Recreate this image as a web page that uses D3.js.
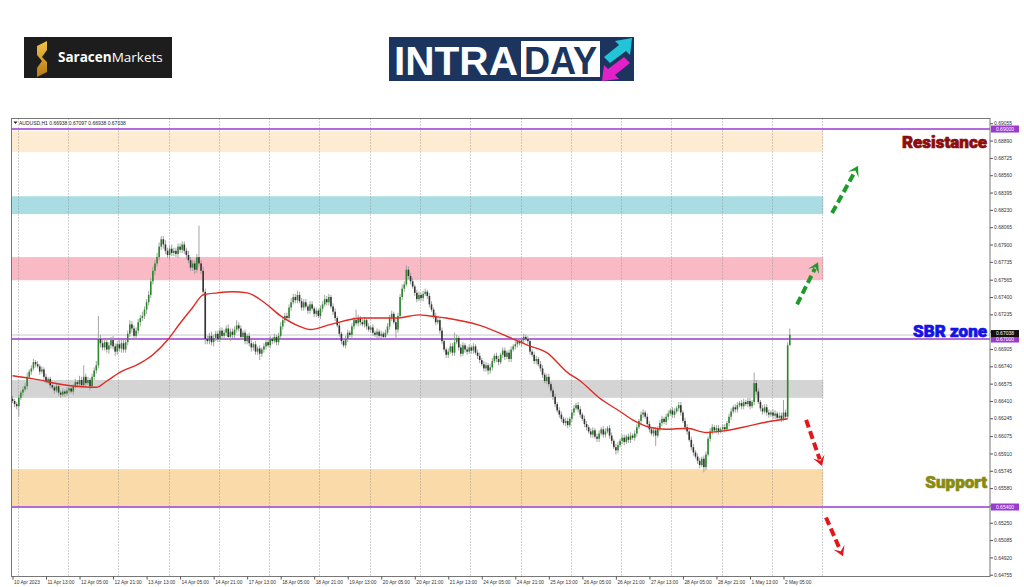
<!DOCTYPE html>
<html><head><meta charset="utf-8">
<script src="https://cdn.jsdelivr.net/npm/d3@7"></script>
<style>body{margin:0;background:#fff}svg{display:block}</style>
</head><body>
<svg id="c" width="1024" height="587"></svg>
<script>
// ---------- DATA (prices in pips: 6640 = 0.6640) ----------
const symbolHeader = "AUDUSD,H1  0.66938 0.67097 0.66938 0.67038";
const firstOpen = 6643;
const closes = [
6641,6638,6636,6644,6649,6652,6655,6664,6669,6672,
6678,6676,6674,6669,6671,6664,6660,6662,6656,6654,
6651,6655,6649,6647,6650,6648,6651,6653,6650,6655,
6659,6657,6661,6656,6664,6658,6661,6655,6664,6670,
6675,6700,6696,6692,6697,6690,6694,6699,6693,6688,
6695,6691,6696,6690,6697,6705,6714,6710,6703,6708,
6716,6720,6722,6728,6735,6742,6755,6765,6772,6778,
6788,6795,6790,6784,6780,6786,6782,6784,6781,6788,
6785,6790,6784,6780,6775,6768,6772,6766,6778,6772,
6765,6745,6700,6698,6703,6697,6701,6705,6700,6708,
6703,6706,6710,6702,6707,6704,6709,6713,6710,6702,
6706,6698,6703,6696,6692,6695,6688,6691,6686,6690,
6693,6697,6694,6700,6698,6702,6697,6703,6712,6718,
6722,6720,6730,6735,6740,6737,6742,6736,6730,6735,
6731,6727,6733,6729,6724,6727,6722,6729,6733,6738,
6735,6740,6731,6726,6720,6713,6705,6698,6694,6700,
6706,6704,6712,6718,6715,6720,6716,6714,6718,6712,
6709,6711,6706,6704,6707,6703,6705,6702,6706,6712,
6720,6724,6716,6709,6722,6740,6748,6752,6766,6760,
6755,6750,6744,6738,6742,6739,6743,6745,6741,6733,
6728,6722,6716,6718,6708,6698,6690,6685,6688,6693,
6687,6697,6701,6692,6686,6694,6690,6688,6692,6689,
6693,6687,6684,6680,6676,6672,6675,6670,6673,6679,
6684,6681,6678,6685,6689,6683,6687,6681,6690,6693,
6695,6698,6696,6699,6702,6700,6698,6688,6685,6679,
6681,6676,6672,6666,6660,6664,6657,6651,6645,6638,
6632,6628,6624,6620,6622,6618,6624,6630,6634,6637,
6633,6628,6624,6619,6616,6612,6609,6613,6607,6605,
6610,6614,6609,6612,6615,6608,6603,6597,6594,6599,
6603,6606,6602,6607,6604,6608,6606,6610,6616,6622,
6628,6630,6626,6619,6614,6610,6613,6608,6615,6620,
6624,6621,6626,6629,6632,6628,6631,6634,6637,6630,
6622,6616,6612,6604,6597,6592,6588,6584,6580,6586,
6578,6590,6605,6612,6616,6613,6615,6612,6614,6616,
6614,6620,6626,6631,6635,6633,6637,6639,6636,6640,
6638,6641,6636,6640,6658,6650,6640,6634,6631,6635,
6630,6628,6630,6627,6629,6625,6627,6624,6630,6626,
6694,6704];
const wickUp = [
3,2,2,3,2,3,3,4,2,3, 3,2,3,2,3,2,3,2,2,3, 2,3,2,2,3,2,3,2,3,2, 3,2,4,3,11,3,3,2,3,3,
4,22,4,3,3,4,3,3,4,3, 3,4,3,3,3,3,4,3,3,3, 3,3,4,3,3,4,3,4,3,4, 4,3,3,4,3,3,4,3,3,3,
3,3,3,3,4,3,3,3,3,30, 3,4,3,3,3,4,3,3,3,3, 3,3,3,4,3,3,3,5,3,3, 2,3,2,3,3,2,3,2,3,2,
3,2,3,3,2,3,2,3,4,3, 3,3,3,4,3,3,4,3,3,3, 3,2,3,3,2,3,2,3,3,4, 3,3,2,3,3,2,3,2,3,3,
3,2,3,3,10,3,2,3,3,2, 3,2,3,2,3,2,3,2,3,3, 3,3,2,3,3,3,4,3,4,3, 3,3,2,3,3,2,3,3,2,3,
3,2,3,3,2,3,3,2,3,3, 3,9,3,2,3,3,2,3,3,2, 3,2,3,3,2,3,3,2,3,3, 2,3,3,2,3,3,2,3,3,2,
3,3,2,3,3,2,3,3,2,3, 3,2,3,3,2,3,3,2,3,3, 2,3,3,2,3,3,2,3,3,2, 3,3,2,3,3,2,3,3,2,3,
3,2,3,3,2,3,3,2,3,3, 2,3,3,2,3,3,2,3,3,2, 3,3,2,3,3,2,3,3,2,3, 3,2,3,3,2,3,3,2,3,3,
2,3,3,2,3,3,2,3,3,2, 3,3,2,3,3,2,3,3,2,3, 3,2,3,3,2,3,3,2,3,3, 2,3,3,2,10,3,3,2,3,3,
3,3,2,3,3,2,3,3,12,3, 3,6];
const wickDn = [
2,3,3,10,2,3,2,3,2,3, 2,3,2,3,2,3,2,3,3,2, 3,2,3,3,2,3,2,3,2,3, 2,3,2,3,2,3,2,4,2,3,
3,3,4,3,3,3,4,3,3,4, 3,3,4,3,3,3,3,4,3,3, 3,4,3,3,4,3,3,3,4,3, 3,3,4,3,3,4,3,3,3,4,
3,3,3,4,3,3,3,4,3,3, 3,4,5,3,3,3,4,3,3,3, 3,3,3,3,4,3,3,3,3,3, 3,3,3,3,4,3,3,3,6,3,
3,3,2,3,3,2,3,3,2,3, 3,2,3,3,2,3,3,2,3,3, 2,3,3,2,3,3,2,3,3,2, 3,3,2,3,3,2,3,3,2,3,
3,2,3,3,2,3,3,2,3,3, 2,3,3,2,3,3,2,3,3,2, 3,3,2,10,3,2,3,3,2,3, 3,2,3,3,2,3,3,2,3,3,
2,3,3,2,3,3,2,3,3,2, 3,3,2,3,3,2,3,3,2,3, 3,2,3,3,2,3,3,4,3,3, 2,3,3,2,3,3,2,3,3,2,
3,3,2,3,3,2,3,3,2,3, 3,2,3,3,2,3,3,2,3,3, 2,3,3,2,3,3,2,3,3,2, 3,3,2,3,3,2,3,3,2,3,
3,2,3,3,2,3,3,2,4,3, 2,3,3,2,3,3,2,3,3,2, 3,3,2,3,3,2,3,10,2,3, 3,2,3,3,2,3,3,2,3,3,
2,3,3,2,3,3,2,3,3,2, 5,3,2,3,3,2,3,3,2,3, 3,2,3,3,2,3,3,2,3,3, 2,3,3,2,3,3,2,3,3,2,
3,3,2,3,3,2,3,3,2,3, 2,0];
// moving average (red line), read at selected bars
const maIdx = [0,10,26,40,45,51,61,67,74,80,86,91,98,105,112,120,128,137,142,152,167,183,194,199,207,223,239,246,255,265,271,280,290,296,304,312,322,331,341,351,360,370];
const maVal = [6665,6662,6656,6654,6660,6668,6677,6685,6699,6715,6730,6742,6744,6745,6744,6735,6722,6712,6709,6714,6720,6720,6723,6722,6720,6713,6700,6694,6687,6668,6660,6644,6631,6623,6616,6614,6615,6611,6613,6617,6621,6624];
// zones
const zoneLo = [6878, 6819, 6756, 6644, 6541];
const zoneHi = [6898, 6836, 6778, 6661, 6576];
const zoneColors = ["#fdebd2", "#aadde3", "#f9bac5", "#d4d4d4", "#fbdaaa"];
// key levels
const levelVals = [6900, 6700, 6540];
const levelTags = ["0.69000", "0.67000", "0.65400"];
const currentPrice = 6703.8;
// axis ticks
const yTickVals = [0.69055,0.68890,0.68725,0.68560,0.68395,0.68230,0.68065,0.67900,0.67735,0.67565,0.67400,0.67235,0.67070,0.66905,0.66740,0.66575,0.66410,0.66245,0.66075,0.65910,0.65745,0.65580,0.65415,0.65250,0.65085,0.64920,0.64755];
const xLabels = ["10 Apr 2023","11 Apr 13:00","12 Apr 05:00","12 Apr 21:00","13 Apr 13:00","14 Apr 05:00","14 Apr 21:00","17 Apr 13:00","18 Apr 05:00","18 Apr 21:00","19 Apr 13:00","20 Apr 05:00","20 Apr 21:00","21 Apr 13:00","24 Apr 05:00","24 Apr 21:00","25 Apr 13:00","26 Apr 05:00","26 Apr 21:00","27 Apr 13:00","28 Apr 05:00","28 Apr 21:00","1 May 13:00","2 May 05:00"];
// annotation arrows: [barFrom, pipsFrom, barTo, pipsTo]
const arrowsUp = [[374.5,6733,384.5,6773],[391.2,6820,403.6,6865]];
const arrowsDn = [[378.8,6623,386.4,6579],[388.3,6530,396.4,6493]];
const labels = [{t:"Resistance", p:6882, c:"#8b0d0d"},{t:"SBR zone", p:6702, c:"#1414e6"},{t:"Support", p:6558, c:"#8a8a12"}];

// ---------- DRAW ----------
const svg = d3.select("#c");
const P = v => v / 10000;
const x = d3.scaleLinear().domain([0, 467]).range([12.5, 990.9]);
const y = d3.scaleLinear().domain([0.64743, 0.69105]).range([576, 118]);
const L = 11, R = 990, T = 118.5, B = 576.5;

// logos
const lg = svg.append("g");
lg.append("rect").attr("x",24).attr("y",37).attr("width",148).attr("height",41).attr("fill","#1d1d1d");
const grad = svg.append("defs").append("linearGradient").attr("id","gold").attr("x1","0").attr("y1","0").attr("x2","0").attr("y2","1");
grad.append("stop").attr("offset","0").attr("stop-color","#f3c34a");
grad.append("stop").attr("offset","1").attr("stop-color","#b37a12");
lg.append("path").attr("d","M37,46 L47,41 L47,50 L42,57 L47,62 L47,72 L37,77 L37,68 L42,61 L37,55 Z").attr("fill","url(#gold)");
const st = lg.append("text").attr("x",58).attr("y",62).attr("font-family","Open Sans, sans-serif").attr("font-size",13.5).attr("fill","#fff");
st.append("tspan").attr("font-weight",700).text("Saracen");
st.append("tspan").attr("font-weight",400).text("Markets");

lg.append("rect").attr("x",389).attr("y",37).attr("width",245).attr("height",44).attr("fill","#1b355e");
lg.append("text").attr("x",394).attr("y",75).attr("font-family","Liberation Sans Narrow, Liberation Sans, sans-serif").attr("font-weight",700).attr("font-size",40).attr("fill","#fff").attr("textLength",124).attr("lengthAdjust","spacingAndGlyphs").text("INTRA");
lg.append("rect").attr("x",521).attr("y",41).attr("width",79).attr("height",36).attr("fill","#fff");
lg.append("text").attr("x",524).attr("y",74).attr("font-family","Liberation Sans Narrow, Liberation Sans, sans-serif").attr("font-weight",700).attr("font-size",38).attr("fill","#1b355e").attr("textLength",73).attr("lengthAdjust","spacingAndGlyphs").text("DAY");
lg.append("path").attr("d","M604,57 L619,45 L615,41 L632,38 L630,55 L626,51 L610,63 Z").attr("fill","#22c4d8");
lg.append("path").attr("d","M630,63 L615,75 L619,79 L602,81 L604,65 L608,69 L624,57 Z").attr("fill","#e321c9");

// plot area
const plot = svg.append("g");
plot.append("rect").attr("x",L).attr("y",T).attr("width",R-L).attr("height",B-T).attr("fill","#fff");

// zones
const zoneEnd = 387;
plot.selectAll("rect.zone").data(zoneLo.map((lo,k)=>({lo, hi:zoneHi[k], c:zoneColors[k]})))
  .join("rect").attr("class","zone")
  .attr("x", x(-0.7)).attr("width", x(zoneEnd) - x(-0.7))
  .attr("y", d => y(P(d.hi))).attr("height", d => y(P(d.lo)) - y(P(d.hi)))
  .attr("fill", d => d.c);

// vertical dotted grid
const gridIdx = d3.range(17).map(k => 2.5 + 24*k);
plot.selectAll("line.grid").data(gridIdx).join("line").attr("class","grid")
  .attr("x1", d => Math.round(x(d))+0.5).attr("x2", d => Math.round(x(d))+0.5)
  .attr("y1", T).attr("y2", B)
  .attr("stroke","#8a8a8a").attr("stroke-width",0.8).attr("stroke-dasharray","1,2");

// current price line
plot.append("line").attr("x1",L).attr("x2",R).attr("y1",y(P(currentPrice))).attr("y2",y(P(currentPrice)))
  .attr("stroke","#c8c8c8").attr("stroke-width",1);

// level lines
plot.selectAll("line.lvl").data(levelVals).join("line").attr("class","lvl")
  .attr("x1",L).attr("x2",R).attr("y1",d=>y(P(d))).attr("y2",d=>y(P(d)))
  .attr("stroke","#9a3ad0").attr("stroke-width",1.5);

// candles
const bars = closes.map((c,i) => {
  const o = i === 0 ? firstOpen : closes[i-1];
  return {i, o, c, h: Math.max(o,c) + wickUp[i], l: Math.min(o,c) - wickDn[i]};
});
const cg = plot.append("g");
cg.selectAll("line.wick").data(bars).join("line").attr("class","wick")
  .attr("x1", d => x(d.i)).attr("x2", d => x(d.i))
  .attr("y1", d => y(P(d.h))).attr("y2", d => y(P(d.l)))
  .attr("stroke","#9a9a9a").attr("stroke-width",0.9);
cg.selectAll("rect.body").data(bars).join("rect").attr("class","body")
  .attr("x", d => x(d.i) - 0.8).attr("width", 1.6)
  .attr("y", d => y(P(Math.max(d.o,d.c))))
  .attr("height", d => Math.max(0.8, Math.abs(y(P(d.o)) - y(P(d.c)))))
  .attr("fill", d => d.c >= d.o ? "#2a8a2a" : "#333");

// MA line
plot.append("path").datum(maIdx.map((d,k)=>[d, maVal[k]]))
  .attr("d", d3.line().x(d => x(d[0])).y(d => y(P(d[1]))).curve(d3.curveMonotoneX))
  .attr("fill","none").attr("stroke","#e02a22").attr("stroke-width",1.4);

// border
plot.append("rect").attr("x",L+0.5).attr("y",T).attr("width",R-L-0.5).attr("height",B-T)
  .attr("fill","none").attr("stroke","#777").attr("stroke-width",1);

// header
plot.append("path").attr("d","M13.5,121.5 L17.5,121.5 L15.5,124 Z").attr("fill","#222");
plot.append("text").attr("x",19).attr("y",125.3).attr("font-family","Liberation Sans, sans-serif").attr("font-size",5).attr("fill","#222").text(symbolHeader);

// y axis
const ya = d3.axisRight(y).tickValues(yTickVals).tickFormat(d3.format(".5f")).tickSize(3).tickPadding(1);
const yg = svg.append("g").attr("transform",`translate(${R},0)`).call(ya);
yg.select(".domain").remove();
yg.selectAll("line").attr("stroke","#555");
yg.selectAll("text").attr("font-family","Liberation Sans, sans-serif").attr("font-size",5).attr("fill","#333");

// x axis
const xa = d3.axisBottom(x).tickValues(xLabels.map((_,k)=>16*k)).tickFormat((d,k)=>xLabels[k]).tickSize(3).tickPadding(1);
const xg = svg.append("g").attr("transform",`translate(0,${B})`).call(xa);
xg.select(".domain").remove();
xg.selectAll("line").attr("stroke","#555");
xg.selectAll("text").attr("text-anchor","start").attr("dx",1).attr("font-family","Liberation Sans, sans-serif").attr("font-size",4.8).attr("fill","#333");

// price tags
const tg = svg.append("g");
tg.selectAll("g.tag").data(levelVals.map((v,k)=>({v, t:levelTags[k]}))).join("g").attr("class","tag")
  .each(function(d){
    const g = d3.select(this), yy = y(P(d.v));
    g.append("rect").attr("x",R+1).attr("y",yy-3.5).attr("width",28).attr("height",7).attr("fill","#9a3ad0");
    g.append("text").attr("x",R+15).attr("y",yy+1.8).attr("text-anchor","middle").attr("font-family","Liberation Sans, sans-serif").attr("font-size",5).attr("fill","#fff").text(d.t);
  });
{
  const yy = y(P(currentPrice)) - 1.5;
  tg.append("rect").attr("x",R+1).attr("y",yy-3.5).attr("width",28).attr("height",7).attr("fill","#111");
  tg.append("text").attr("x",R+15).attr("y",yy+1.8).attr("text-anchor","middle").attr("font-family","Liberation Sans, sans-serif").attr("font-size",5).attr("fill","#fff").text("0.67038");
}

// arrows
function arrow(a, color){
  const x0 = x(a[0]), y0 = y(P(a[1])), x1 = x(a[2]), y1 = y(P(a[3]));
  const dx = x1-x0, dy = y1-y0, len = Math.hypot(dx,dy), ux = dx/len, uy = dy/len, nx = -uy, ny = ux;
  const hl = 10, hw = 6;
  svg.append("line").attr("x1",x0).attr("y1",y0).attr("x2",x1-ux*hl*0.7).attr("y2",y1-uy*hl*0.7)
    .attr("stroke",color).attr("stroke-width",4).attr("stroke-dasharray","8,4");
  const pts = [[x1,y1],[x1-ux*hl+nx*hw, y1-uy*hl+ny*hw],[x1-ux*hl*0.55, y1-uy*hl*0.55],[x1-ux*hl-nx*hw, y1-uy*hl-ny*hw]];
  svg.append("path").attr("d","M"+pts.map(p=>p.join(",")).join("L")+"Z").attr("fill",color);
}
arrowsUp.forEach(a => arrow(a, "#1f9a2a"));
arrowsDn.forEach(a => arrow(a, "#e3161b"));

// zone labels
svg.selectAll("text.zl").data(labels).join("text").attr("class","zl")
  .attr("x", 987).attr("y", d => y(P(d.p)))
  .attr("text-anchor","end").attr("font-family","Roboto, Lato, sans-serif").attr("font-weight",900)
  .attr("font-size",17).attr("fill", d => d.c).attr("stroke", d => d.c).attr("stroke-width",0.7)
  .text(d => d.t);
</script>
</body></html>
